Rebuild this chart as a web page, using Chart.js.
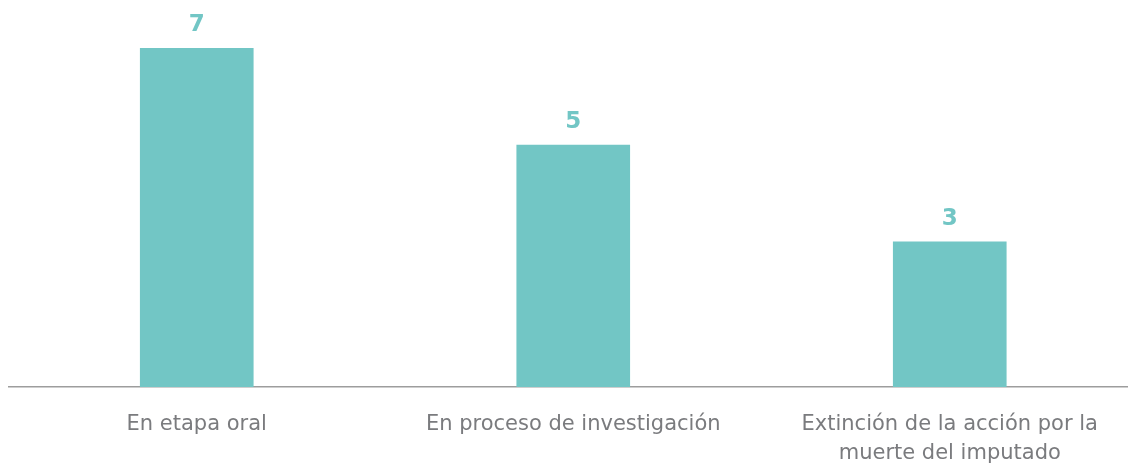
<!DOCTYPE html>
<html>
<head>
<meta charset="utf-8">
<script src="https://cdn.jsdelivr.net/npm/chart.js@4"></script>
<style>
  html, body { margin: 0; padding: 0; background: #fff; overflow: hidden; }
  #wrap { width: 1138px; height: 465px; }
</style>
</head>
<body>
<div id="wrap"><canvas id="chart" width="1138" height="465"></canvas></div>
<script>
// Chart data
const categories = [
    'En etapa oral',
    'En proceso de investigación',
    ['Extinción de la acción por la', 'muerte del imputado']
];
const values = [7, 5, 3];
const yMax = 8;

const teal = '#72c6c5';
const labelGrey = '#7a7b7e';

// Value labels above each bar
const valueLabels = {
    id: 'valueLabels',
    afterDatasetsDraw(chart) {
        const ctx = chart.ctx;
        const meta = chart.getDatasetMeta(0);
        ctx.save();
        ctx.fillStyle = teal;
        ctx.font = 'bold 23px "DejaVu Sans"';
        ctx.textAlign = 'center';
        ctx.textBaseline = 'middle';
        meta.data.forEach(function(bar, i) {
            ctx.fillText(String(values[i]), bar.x, bar.y - 23);
        });
        ctx.restore();
    }
};

new Chart(document.getElementById('chart'), {
    type: 'bar',
    data: {
        labels: categories,
        datasets: [{
            data: values,
            backgroundColor: teal,
            barThickness: 113
        }]
    },
    options: {
        responsive: false,
        animation: false,
        layout: { padding: { left: 8.5, right: 0, top: 0, bottom: 0 } },
        plugins: { legend: { display: false }, tooltip: { enabled: false } },
        scales: {
            x: {
                grid: { display: false },
                border: { display: true, color: '#9d9d9d', width: 1.5 },
                ticks: {
                    color: labelGrey,
                    font: { family: '"DejaVu Sans"', size: 21, lineHeight: 1.38 },
                    padding: 15,
                    maxRotation: 0,
                    autoSkip: false
                },
                afterFit(scale) { scale.height = 78; }
            },
            y: {
                display: false,
                min: 0,
                max: yMax
            }
        }
    },
    plugins: [valueLabels]
});
</script>
</body>
</html>
